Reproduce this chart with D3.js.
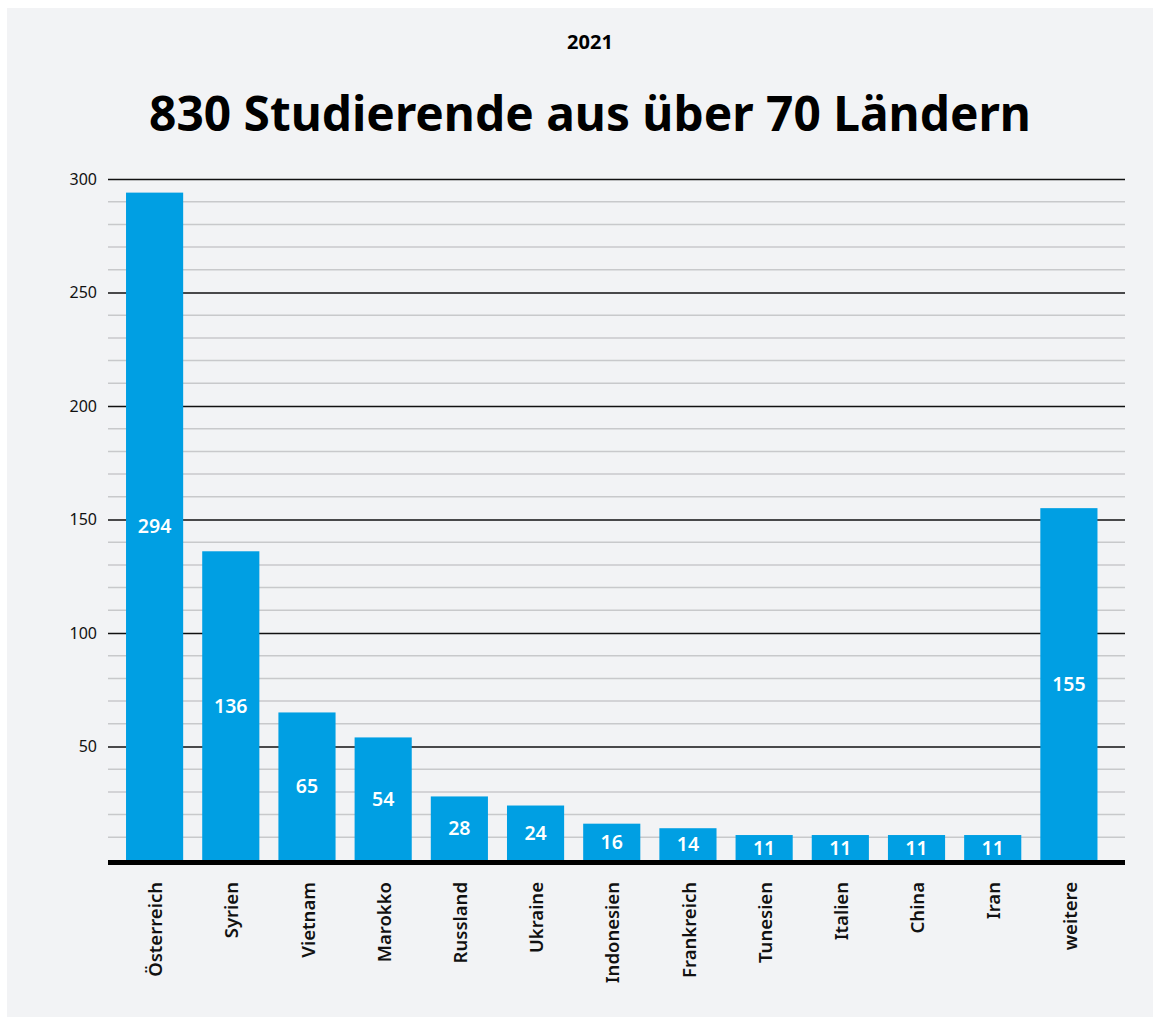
<!DOCTYPE html>
<html>
<head>
<meta charset="utf-8">
<script src="https://cdn.jsdelivr.net/npm/d3@7"></script>
<style>
  body { margin: 0; background: #fff; }
  svg { display: block; font-family: "Noto Sans", "Open Sans", sans-serif; }
</style>
</head>
<body>
<svg id="chart" width="1160" height="1017"></svg>
<script>
const countries = ["Österreich", "Syrien", "Vietnam", "Marokko", "Russland", "Ukraine",
    "Indonesien", "Frankreich", "Tunesien", "Italien", "China", "Iran", "weitere"];
const students = [294, 136, 65, 54, 28, 24, 16, 14, 11, 11, 11, 11, 155];
const majorTicks = [50, 100, 150, 200, 250, 300];

const svg = d3.select("#chart");

svg.append("rect")
    .attr("x", 7).attr("y", 8)
    .attr("width", 1146).attr("height", 1009)
    .attr("fill", "#f2f3f5");

const left = 108, right = 1125;

const x = d3.scaleBand()
    .domain(countries)
    .range([116.5, 1107])
    .paddingInner(0.25)
    .paddingOuter(0.125);

const y = d3.scaleLinear()
    .domain([0, 300])
    .range([860, 179]);

// titles
svg.append("text")
    .attr("x", 590).attr("y", 49)
    .attr("text-anchor", "middle")
    .attr("font-size", 20).attr("font-weight", 700)
    .text("2021");

const title = svg.append("text")
    .attr("x", 590).attr("y", 131)
    .attr("text-anchor", "middle")
    .attr("font-size", 48).attr("font-weight", 700)
    .text("830 Studierende aus über 70 Ländern");
const tw = title.node().getComputedTextLength();
title.attr("font-size", 48 * 882 / tw);

// minor grid
svg.append("g")
    .selectAll("line")
    .data(d3.range(10, 300, 10).filter(v => v % 50 !== 0))
    .join("line")
    .attr("x1", left).attr("x2", right)
    .attr("y1", d => y(d)).attr("y2", d => y(d))
    .attr("stroke", "#c8c9cb").attr("stroke-width", 1.5);

// major grid + labels
const yAxis = d3.axisLeft(y)
    .tickValues(majorTicks)
    .tickSize(-(right - left))
    .tickPadding(11);

svg.append("g")
    .attr("transform", `translate(${left},0)`)
    .call(yAxis)
    .call(g => g.select(".domain").remove())
    .call(g => g.selectAll(".tick line").attr("stroke", "#111").attr("stroke-width", 1.3))
    .call(g => g.selectAll(".tick text")
        .attr("font-size", 16).attr("fill", "#111")
        .attr("font-family", "Noto Sans, sans-serif"));

// bars
svg.append("g")
    .selectAll("rect")
    .data(countries)
    .join("rect")
    .attr("x", d => x(d))
    .attr("width", x.bandwidth())
    .attr("y", (d, i) => y(students[i]))
    .attr("height", (d, i) => y(0) - y(students[i]))
    .attr("fill", "#009fe3");

// value labels
svg.append("g")
    .selectAll("text")
    .data(countries)
    .join("text")
    .attr("x", d => x(d) + x.bandwidth() / 2)
    .attr("y", (d, i) => (y(students[i]) + y(0)) / 2)
    .attr("dy", "0.36em")
    .attr("text-anchor", "middle")
    .attr("font-size", 19.5).attr("font-weight", 600)
    .attr("fill", "#fff")
    .text((d, i) => students[i]);

// baseline
svg.append("line")
    .attr("x1", left).attr("x2", right)
    .attr("y1", y(0) + 2.5).attr("y2", y(0) + 2.5)
    .attr("stroke", "#000").attr("stroke-width", 5);

// category labels
svg.append("g")
    .selectAll("text")
    .data(countries)
    .join("text")
    .attr("transform", d => `translate(${x(d) + x.bandwidth() / 2 + 1},882) rotate(-90)`)
    .attr("dy", "0.36em")
    .attr("text-anchor", "end")
    .attr("font-size", 18.5).attr("font-weight", 600)
    .attr("fill", "#111")
    .text(d => d);
</script>
</body>
</html>
